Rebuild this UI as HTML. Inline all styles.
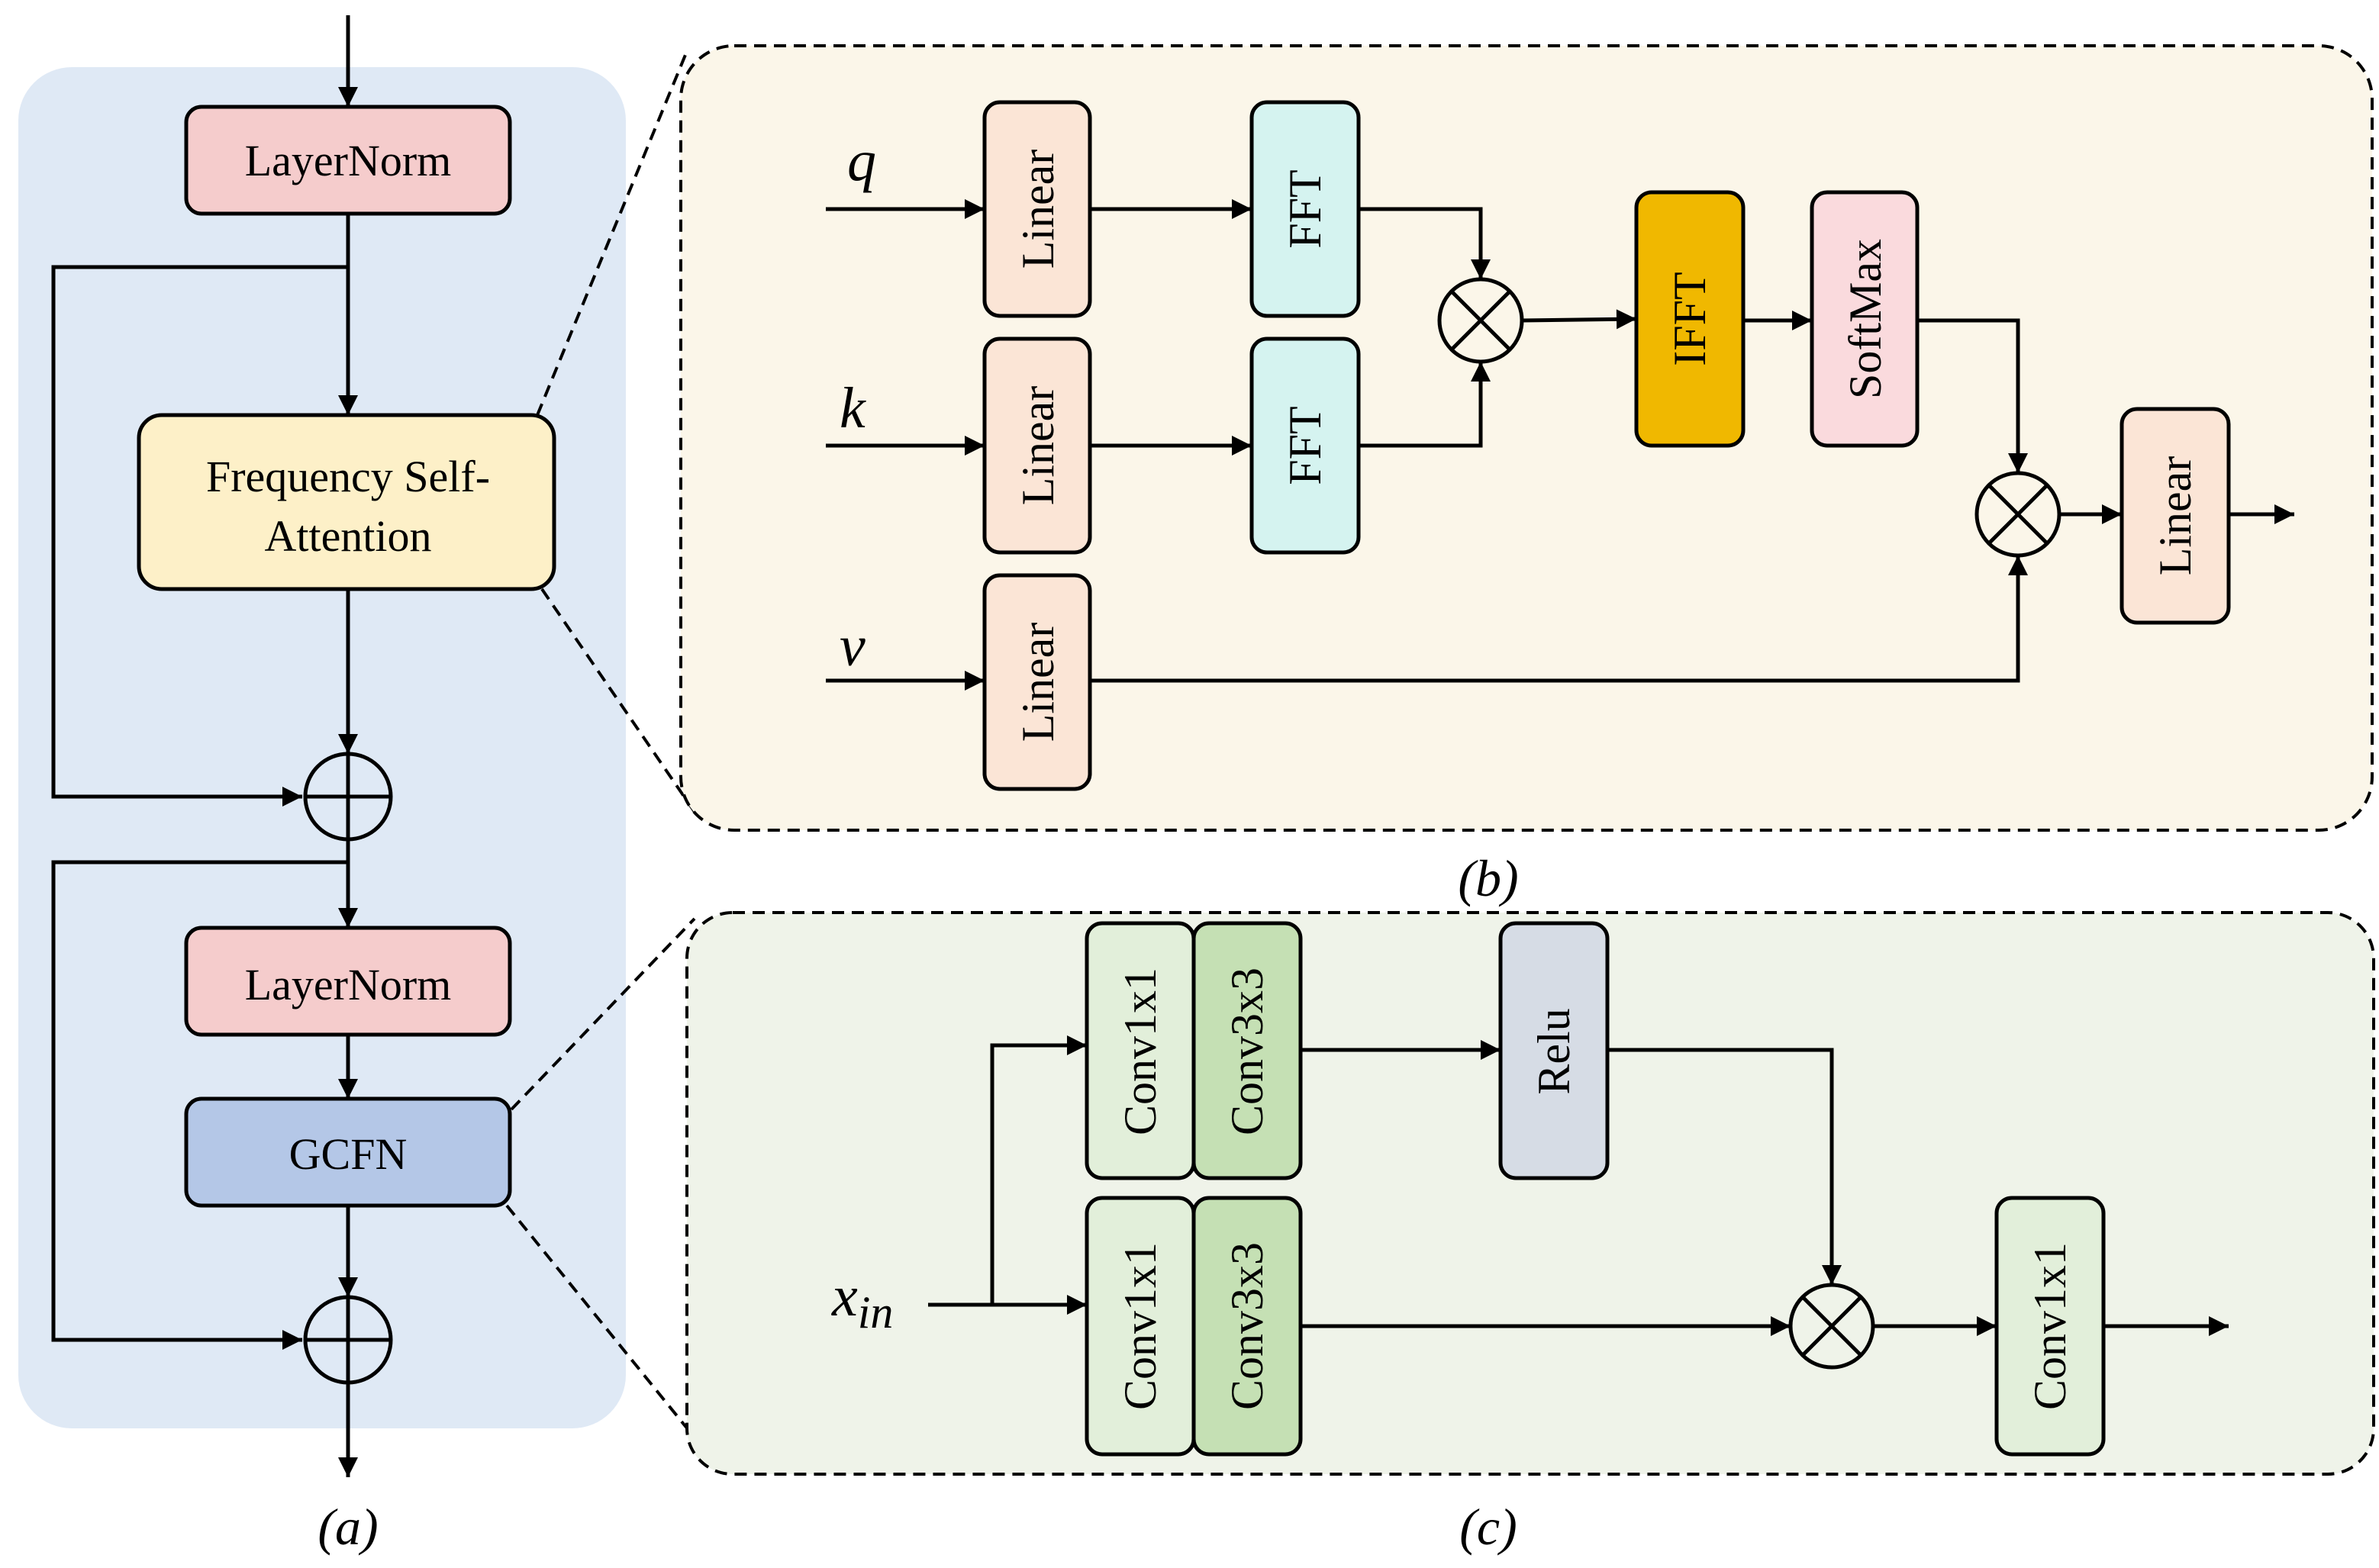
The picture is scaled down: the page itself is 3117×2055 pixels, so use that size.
<!DOCTYPE html>
<html><head><meta charset="utf-8"><style>
html,body{margin:0;padding:0;background:#fff;}
svg{display:block;}
text{font-family:"Liberation Serif",serif;fill:#000;}
</style></head><body>
<svg width="3117" height="2055" viewBox="0 0 1558.5 1027.5" xmlns="http://www.w3.org/2000/svg">
<defs>
<marker id="a" viewBox="0 0 10 10" refX="10" refY="5" markerWidth="15" markerHeight="13" orient="auto" markerUnits="userSpaceOnUse">
<path d="M0,0 L10,5 L0,10 z" fill="#000"/></marker>
</defs>
<rect width="1558.5" height="1027.5" fill="#fff"/>
<!-- panel a -->
<rect x="12" y="44" width="398" height="892" rx="35" fill="#dfe9f5"/>
<g stroke="#000" stroke-width="2.5" fill="none">
<line x1="228" y1="10" x2="228" y2="70" marker-end="url(#a)"/>
<line x1="228" y1="140" x2="228" y2="272" marker-end="url(#a)"/>
<polyline points="228,175 35,175 35,522 198,522" marker-end="url(#a)"/>
<line x1="228" y1="386" x2="228" y2="494" marker-end="url(#a)"/>
<line x1="228" y1="550" x2="228" y2="608" marker-end="url(#a)"/>
<polyline points="228,565 35,565 35,878 198,878" marker-end="url(#a)"/>
<line x1="228" y1="678" x2="228" y2="720" marker-end="url(#a)"/>
<line x1="228" y1="790" x2="228" y2="850" marker-end="url(#a)"/>
<line x1="228" y1="906" x2="228" y2="968" marker-end="url(#a)"/>
</g>
<g stroke="#000" stroke-width="2.5">
<rect x="122" y="70" width="212" height="70" rx="10" fill="#f5cccc"/>
<rect x="91" y="272" width="272" height="114" rx="15" fill="#fdf0c8"/>
<rect x="122" y="608" width="212" height="70" rx="10" fill="#f5cccc"/>
<rect x="122" y="720" width="212" height="70" rx="10" fill="#b4c7e7"/>
<circle cx="228" cy="522" r="28" fill="none"/>
<line x1="200" y1="522" x2="256" y2="522"/><line x1="228" y1="494" x2="228" y2="550"/>
<circle cx="228" cy="878" r="28" fill="none"/>
<line x1="200" y1="878" x2="256" y2="878"/><line x1="228" y1="850" x2="228" y2="906"/>
</g>
<g font-size="29" text-anchor="middle">
<text x="228" y="115">LayerNorm</text>
<text x="228" y="322">Frequency Self-</text>
<text x="228" y="361">Attention</text>
<text x="228" y="655">LayerNorm</text>
<text x="228" y="766">GCFN</text>
</g>
<text x="228" y="1012" font-size="34" font-style="italic" text-anchor="middle">(a)</text>
<!-- dashed connectors -->
<g stroke="#000" stroke-width="2" stroke-dasharray="8,5" fill="none">
<line x1="352" y1="272" x2="449" y2="36"/>
<line x1="355" y1="386" x2="455" y2="532"/>
<line x1="335" y1="727" x2="455" y2="602"/>
<line x1="332" y1="790" x2="455" y2="942"/>
<rect x="446" y="30" width="1108" height="514" rx="35" fill="#fbf6e9"/>
<rect x="450" y="598" width="1105" height="368" rx="30" fill="#eff3e9"/>
</g>
<!-- panel b -->
<g stroke="#000" stroke-width="2.5" fill="none">
<line x1="541" y1="137" x2="645" y2="137" marker-end="url(#a)"/>
<line x1="714" y1="137" x2="820" y2="137" marker-end="url(#a)"/>
<polyline points="890,137 970,137 970,183" marker-end="url(#a)"/>
<line x1="541" y1="292" x2="645" y2="292" marker-end="url(#a)"/>
<line x1="714" y1="292" x2="820" y2="292" marker-end="url(#a)"/>
<polyline points="890,292 970,292 970,237" marker-end="url(#a)"/>
<line x1="997" y1="210" x2="1072" y2="209" marker-end="url(#a)"/>
<line x1="1142" y1="210" x2="1187" y2="210" marker-end="url(#a)"/>
<polyline points="1256,210 1322,210 1322,310" marker-end="url(#a)"/>
<line x1="541" y1="446" x2="645" y2="446" marker-end="url(#a)"/>
<polyline points="714,446 1322,446 1322,364" marker-end="url(#a)"/>
<line x1="1349" y1="337" x2="1390" y2="337" marker-end="url(#a)"/>
<line x1="1460" y1="337" x2="1503" y2="337" marker-end="url(#a)"/>
</g>
<g stroke="#000" stroke-width="2.5">
<rect x="645" y="67" width="69" height="140" rx="10" fill="#fbe5d6"/>
<rect x="820" y="67" width="70" height="140" rx="10" fill="#d5f3f0"/>
<rect x="645" y="222" width="69" height="140" rx="10" fill="#fbe5d6"/>
<rect x="820" y="222" width="70" height="140" rx="10" fill="#d5f3f0"/>
<rect x="645" y="377" width="69" height="140" rx="10" fill="#fbe5d6"/>
<rect x="1072" y="126" width="70" height="166" rx="10" fill="#f0b800"/>
<rect x="1187" y="126" width="69" height="166" rx="10" fill="#fadadd"/>
<rect x="1390" y="268" width="70" height="140" rx="10" fill="#fbe5d6"/>
<circle cx="970" cy="210" r="27" fill="none"/>
<line x1="951" y1="191" x2="989" y2="229"/><line x1="989" y1="191" x2="951" y2="229"/>
<circle cx="1322" cy="337" r="27" fill="none"/>
<line x1="1303" y1="318" x2="1341" y2="356"/><line x1="1341" y1="318" x2="1303" y2="356"/>
</g>
<g font-size="30" text-anchor="middle" dominant-baseline="central">
<text transform="translate(680,137) rotate(-90)">Linear</text>
<text transform="translate(855,137) rotate(-90)">FFT</text>
<text transform="translate(680,292) rotate(-90)">Linear</text>
<text transform="translate(855,292) rotate(-90)">FFT</text>
<text transform="translate(680,447) rotate(-90)">Linear</text>
<text transform="translate(1107,209) rotate(-90)">IFFT</text>
<text transform="translate(1222,209) rotate(-90)">SoftMax</text>
<text transform="translate(1425,338) rotate(-90)">Linear</text>
</g>
<g font-size="38" font-style="italic">
<text x="555" y="118">q</text>
<text x="550" y="280">k</text>
<text x="550" y="436">v</text>
</g>
<text x="975" y="587" font-size="34" font-style="italic" text-anchor="middle">(b)</text>
<!-- panel c -->
<g stroke="#000" stroke-width="2.5" fill="none">
<line x1="608" y1="855" x2="712" y2="855" marker-end="url(#a)"/>
<polyline points="650,855 650,685 712,685" marker-end="url(#a)"/>
<line x1="852" y1="688" x2="983" y2="688" marker-end="url(#a)"/>
<polyline points="1053,688 1200,688 1200,842" marker-end="url(#a)"/>
<line x1="852" y1="869" x2="1173" y2="869" marker-end="url(#a)"/>
<line x1="1227" y1="869" x2="1308" y2="869" marker-end="url(#a)"/>
<line x1="1378" y1="869" x2="1460" y2="869" marker-end="url(#a)"/>
</g>
<g stroke="#000" stroke-width="2.5">
<rect x="712" y="605" width="70" height="167" rx="10" fill="#e2efda"/>
<rect x="782" y="605" width="70" height="167" rx="10" fill="#c5e0b4"/>
<rect x="712" y="785" width="70" height="168" rx="10" fill="#e2efda"/>
<rect x="782" y="785" width="70" height="168" rx="10" fill="#c5e0b4"/>
<rect x="983" y="605" width="70" height="167" rx="10" fill="#d6dce5"/>
<rect x="1308" y="785" width="70" height="168" rx="10" fill="#e2efda"/>
<circle cx="1200" cy="869" r="27" fill="none"/>
<line x1="1181" y1="850" x2="1219" y2="888"/><line x1="1219" y1="850" x2="1181" y2="888"/>
</g>
<g font-size="30" text-anchor="middle" dominant-baseline="central">
<text transform="translate(747,689) rotate(-90)">Conv1x1</text>
<text transform="translate(817,689) rotate(-90)">Conv3x3</text>
<text transform="translate(747,869) rotate(-90)">Conv1x1</text>
<text transform="translate(817,869) rotate(-90)">Conv3x3</text>
<text transform="translate(1018,689) rotate(-90)">Relu</text>
<text transform="translate(1343,869) rotate(-90)">Conv1x1</text>
</g>
<text x="545" y="862" font-size="38" font-style="italic">x<tspan font-size="30" dy="8">in</tspan></text>
<text x="975" y="1012" font-size="34" font-style="italic" text-anchor="middle">(c)</text>
</svg>
</body></html>
